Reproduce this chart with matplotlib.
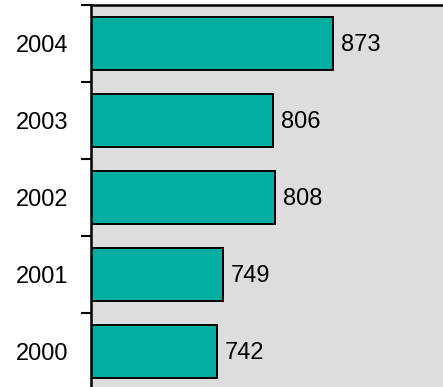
import matplotlib.pyplot as plt
import numpy as np

plt.rcParams['font.family'] = ['Liberation Sans', 'DejaVu Sans']

# Values per year, bottom to top
years = ['2000', '2001', '2002', '2003', '2004']
values = [742, 749, 808, 806, 873]

fig = plt.figure(figsize=(4.43, 3.87), dpi=100)
# axes run a little past the right and bottom edges of the figure
ax = fig.add_axes([91 / 443, -3 / 387, 354 / 443, 385 / 387])
ax.set_facecolor('#DDDDDD')

y = np.arange(len(years))
ax.barh(y, values, height=0.69, color='#00AFA0', edgecolor='black', linewidth=1.4)

for yi, v in zip(y, values):
    ax.text(v + 9, yi - 0.025, str(v), va='center', ha='left', fontsize=17)

ax.set_xlim(600, 1000)
ax.set_ylim(-0.5, len(years) - 0.5)

# boundary ticks between categories, labels centred on each bar
ax.set_yticks(np.arange(-0.5, len(years)))
ax.set_yticklabels([])
ax.set_yticks(y, minor=True)
ax.set_yticklabels(years, minor=True, fontsize=17)
ax.tick_params(axis='y', which='major', length=7, width=1.5, direction='out')
ax.tick_params(axis='y', which='minor', length=0, pad=16.5)
ax.set_xticks([])

for side in ['left', 'top']:
    ax.spines[side].set_linewidth(1.8)
ax.spines['right'].set_visible(False)
ax.spines['bottom'].set_visible(False)

fig.savefig('out.png', dpi=100)
